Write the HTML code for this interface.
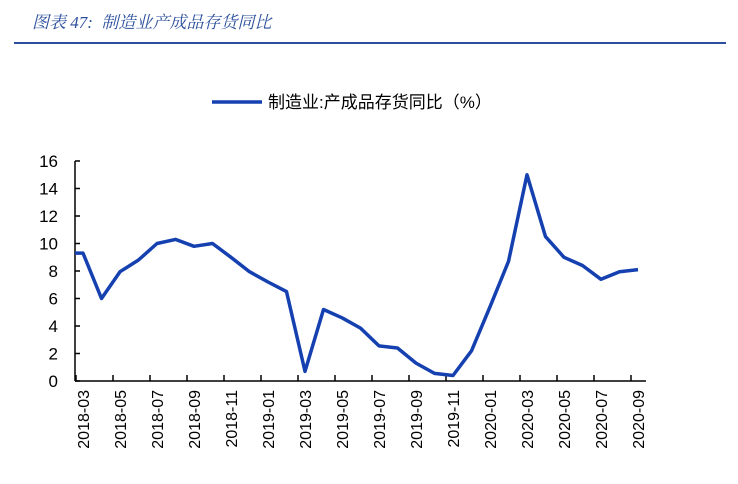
<!DOCTYPE html>
<html><head><meta charset="utf-8"><style>
html,body{margin:0;padding:0;background:#fff;}
body{width:738px;height:484px;overflow:hidden;position:relative;font-family:"Liberation Sans","Noto Sans CJK SC",sans-serif;}
</style></head><body>
<div style="position:absolute;left:32px;top:8px;font-size:17px;font-style:italic;color:#2b4f9e;font-family:'Liberation Serif','Noto Serif CJK SC',serif;">图表 47:&nbsp; 制造业产成品存货同比</div>
<div style="position:absolute;left:14px;top:42px;width:712px;height:2px;background:#2b4f9e;"></div>
<svg id="c" width="738" height="484" style="position:absolute;left:0;top:0"></svg>
<script>
const categories=["2018-02","2018-03","2018-04","2018-05","2018-06","2018-07","2018-08","2018-09","2018-10","2018-11","2018-12","2019-01","2019-02","2019-03","2019-04","2019-05","2019-06","2019-07","2019-08","2019-09","2019-10","2019-11","2019-12","2020-01","2020-02","2020-03","2020-04","2020-05","2020-06","2020-07","2020-08","2020-09"];
const values=[9.3,9.3,6.0,7.95,8.8,10.0,10.3,9.8,10.0,9.0,7.95,7.2,6.5,0.7,5.2,4.6,3.85,2.55,2.4,1.3,0.55,0.4,2.2,5.4,8.7,15.0,10.5,9.0,8.4,7.4,7.95,8.1];
const yTicks=[0,2,4,6,8,10,12,14,16];
const xLabels=["2018-03","2018-05","2018-07","2018-09","2018-11","2019-01","2019-03","2019-05","2019-07","2019-09","2019-11","2020-01","2020-03","2020-05","2020-07","2020-09"];
const NS="http://www.w3.org/2000/svg";
const svg=document.getElementById('c');
const X0=75,X1=646,Y0=381,Y1=161;
function x(i){return 83+(i-1)*18.5;}
function y(v){return Y0-(v-0)/(16-0)*(Y0-Y1);}
function mk(t,a,p){const e=document.createElementNS(NS,t);for(const k in a)e.setAttribute(k,a[k]);(p||svg).appendChild(e);return e;}
let ya=mk('line',{x1:X0,y1:Y1,x2:X0,y2:Y0,stroke:'#000','stroke-width':1.5});


let xa=mk('line',{x1:X0,y1:Y0,x2:X1,y2:Y0,stroke:'#000','stroke-width':1.5});


yTicks.forEach(v=>{
  let t=mk('line',{x1:X0,y1:y(v),x2:X0+5,y2:y(v),stroke:'#000','stroke-width':1.5});
  
  
  let l=mk('text',{x:58,y:y(v)+6,'text-anchor':'end','font-size':17,fill:'#000'});
  l.textContent=v;
  
  
});
xLabels.forEach(lab=>{
  const i=categories.indexOf(lab);
  const tx=x(i)-7;
  let t=mk('line',{x1:tx,y1:Y0,x2:tx,y2:Y0-6,stroke:'#000','stroke-width':1.5});
  
  
  const lx=x(i)+6;
  let l=mk('text',{x:0,y:0,'text-anchor':'end','font-size':16,fill:'#000',transform:`translate(${lx},390) rotate(-90)`});
  l.textContent=lab;
  
  
});
const defs=mk('defs',{});
const cp=mk('clipPath',{id:'cp'},defs);
mk('rect',{x:X0,y:0,width:700,height:484},cp);
let d=values.map((v,i)=>(i?'L':'M')+x(i).toFixed(1)+','+y(v).toFixed(1)).join(' ');
let p=mk('path',{d:d,fill:'none',stroke:'#1540b0','stroke-width':3.5,'stroke-linejoin':'round','clip-path':'url(#cp)'});


let ll=mk('line',{x1:212,y1:102,x2:262,y2:102,stroke:'#1540b0','stroke-width':3.5});


let lt=mk('text',{x:268,y:108,'font-size':17,fill:'#000'});
lt.textContent='制造业:产成品存货同比（%）';


</script>
</body></html>
